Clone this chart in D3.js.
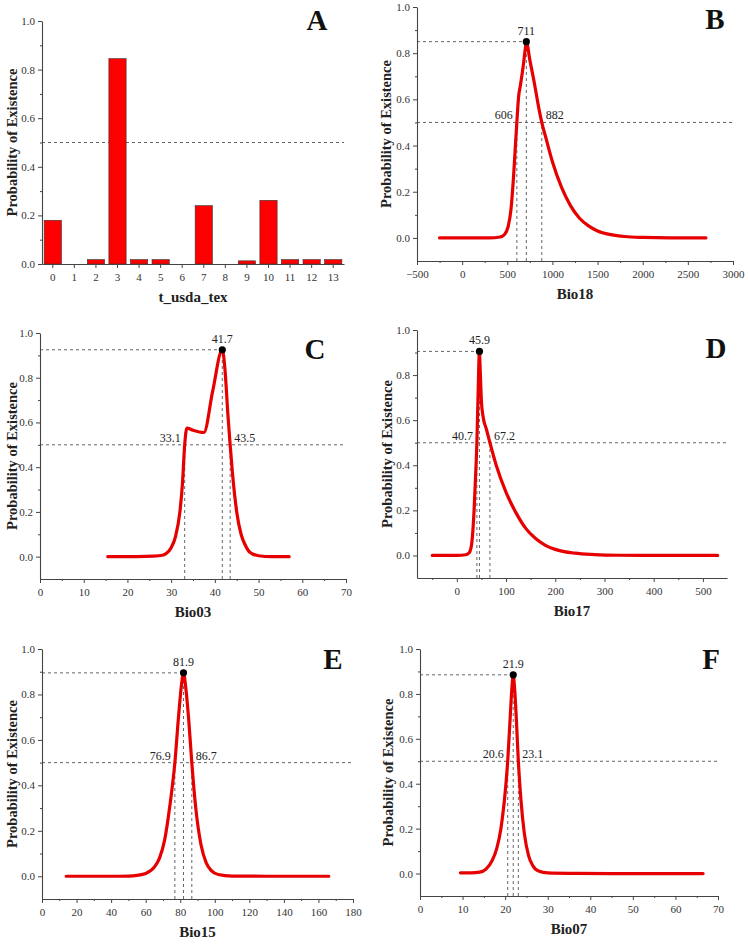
<!DOCTYPE html>
<html>
<head>
<meta charset="utf-8">
<script src="https://cdn.jsdelivr.net/npm/d3@7"></script>
<style>
  body { margin: 0; background: #fff; }
  svg { display: block; }
  text { font-family: "Liberation Serif", "Times New Roman", serif; }
</style>
</head>
<body>
<div id="chart"></div>
<script>
// ---- data ----

const soilClasses = ["0", "1", "2", "3", "4", "5", "6", "7", "8", "9", "10", "11", "12", "13"];
const soilProb = [0.18, 0, 0.018, 0.845, 0.018, 0.018, 0, 0.24, 0, 0.013, 0.262, 0.018, 0.018, 0.018];

const bio18X = [-250, 0, 300, 420, 470, 510, 540, 570, 590, 606, 625, 645, 675, 700, 711, 750, 800, 850, 882, 930, 1000, 1100, 1200, 1300, 1400, 1500, 1650, 1800, 2000, 2300, 2700];
const bio18Y = [0, 0, 0, 0.004, 0.015, 0.05, 0.12, 0.27, 0.4, 0.5, 0.61, 0.66, 0.74, 0.82, 0.85, 0.77, 0.67, 0.56, 0.5, 0.43, 0.33, 0.22, 0.14, 0.085, 0.052, 0.03, 0.014, 0.006, 0.002, 0, 0];

const bio03X = [15.5, 22, 26, 28, 29, 30, 31, 32, 32.6, 33.1, 33.6, 35, 37.5, 39.5, 41.7, 42.3, 43, 43.5, 44, 45, 46, 47, 48, 50, 53, 57];
const bio03Y = [0, 0, 0.002, 0.006, 0.016, 0.04, 0.09, 0.2, 0.33, 0.5, 0.575, 0.565, 0.555, 0.74, 0.925, 0.84, 0.63, 0.5, 0.38, 0.2, 0.1, 0.05, 0.02, 0.004, 0, 0];

const bio17X = [-50, 0, 18, 25, 30, 35, 38, 40.7, 43, 45.9, 47, 50, 53, 60, 67.2, 80, 100, 120, 140, 160, 180, 200, 240, 280, 330, 400, 530];
const bio17Y = [0, 0, 0.003, 0.012, 0.05, 0.2, 0.35, 0.5, 0.7, 0.905, 0.85, 0.68, 0.62, 0.56, 0.5, 0.4, 0.28, 0.19, 0.12, 0.075, 0.045, 0.027, 0.01, 0.004, 0.001, 0, 0];

const bio15X = [14, 40, 50, 55, 60, 65, 68, 71, 74, 76.9, 79, 80.7, 81.9, 83.2, 85, 86.7, 89, 92, 95, 98, 102, 110, 130, 166];
const bio15Y = [0, 0, 0.001, 0.004, 0.012, 0.04, 0.08, 0.16, 0.31, 0.5, 0.7, 0.84, 0.895, 0.83, 0.68, 0.5, 0.3, 0.14, 0.06, 0.025, 0.008, 0.001, 0, 0];

const bio07X = [9.5, 12, 14, 15.5, 17, 18, 19, 20, 20.6, 21.2, 21.6, 21.9, 22.2, 22.6, 23.1, 23.7, 24.5, 25.5, 26.5, 28, 30, 35, 45, 66.5];
const bio07Y = [0.003, 0.003, 0.006, 0.02, 0.06, 0.11, 0.2, 0.36, 0.5, 0.7, 0.83, 0.885, 0.83, 0.7, 0.5, 0.33, 0.18, 0.08, 0.035, 0.01, 0.003, 0.001, 0, 0];

// peak [x, y] and the two 0.5 crossings
const bio18Peak = [711, 0.85], bio18Cuts = [606, 882];
const bio03Peak = [41.7, 0.925], bio03Cuts = [33.1, 43.5];
const bio17Peak = [45.9, 0.905], bio17Cuts = [40.7, 67.2];
const bio15Peak = [81.9, 0.895], bio15Cuts = [76.9, 86.7];
const bio07Peak = [21.9, 0.885], bio07Cuts = [20.6, 23.1];

const bio18Ticks = [-500, 0, 500, 1000, 1500, 2000, 2500, 3000];
const bio03Ticks = [0, 10, 20, 30, 40, 50, 60, 70];
const bio17Ticks = [0, 100, 200, 300, 400, 500];
const bio15Ticks = [0, 20, 40, 60, 80, 100, 120, 140, 160, 180];
const bio07Ticks = [0, 10, 20, 30, 40, 50, 60, 70];
const probTicks = [0, 0.2, 0.4, 0.6, 0.8, 1.0];
const probMinor = [0.1, 0.3, 0.5, 0.7, 0.9];

// ---- layout ----

const width = 748;
const height = 944;
const axisColor = "#444";
const dashColor = "#555";

const svg = d3
  .select("#chart")
  .append("svg")
  .attr("width", width)
  .attr("height", height);

function styleAxis(a) {
  a.select(".domain").attr("stroke", axisColor).attr("stroke-width", 1.1);
  a.selectAll(".tick line").attr("stroke", axisColor).attr("stroke-width", 1);
  a.selectAll(".tick text")
    .style("font-size", "11px")
    .style("font-family", '"Liberation Serif", "Times New Roman", serif')
    .style("fill", "#333");
}

function drawYAxis(g, p, yScale) {
  g.append("g")
    .attr("transform", `translate(${p.x0}, 0)`)
    .call(d3.axisLeft(yScale).tickValues(probTicks).tickFormat(d3.format(".1f")).tickSize(4).tickSizeOuter(0).tickPadding(3))
    .call(styleAxis);
  g.append("g")
    .attr("transform", `translate(${p.x0}, 0)`)
    .call(d3.axisLeft(yScale).tickValues(probMinor).tickFormat("").tickSize(2).tickSizeOuter(0))
    .call((a) => a.select(".domain").remove())
    .call(styleAxis);

  g.append("text")
    .attr("transform", `translate(${p.labelX}, ${(p.yTop + p.yBot) / 2}) rotate(-90)`)
    .attr("text-anchor", "middle")
    .attr("dy", "0.35em")
    .style("font-size", "14.5px")
    .style("font-weight", "bold")
    .style("fill", "#222")
    .text("Probability of Existence");
}

function drawTitles(g, p, title) {
  g.append("text")
    .attr("x", (p.x0 + p.x1) / 2)
    .attr("y", p.yBot + 38)
    .attr("text-anchor", "middle")
    .style("font-size", "15px")
    .style("font-weight", "bold")
    .style("fill", "#222")
    .text(title);

  g.append("text")
    .attr("x", p.letterX)
    .attr("y", p.letterY)
    .attr("text-anchor", "middle")
    .style("font-size", "29px")
    .style("font-weight", "bold")
    .style("fill", "#111")
    .text(p.letter);
}

// Panel A: bar chart of soil texture classes

function drawBars(p) {
  const g = svg.append("g");

  const xScale = d3.scaleBand().domain(soilClasses).range([p.x0, p.x1]).paddingInner(0.2).paddingOuter(0.1);
  const yScale = d3.scaleLinear().domain([0, 1]).range([p.yBot, p.yTop]);

  g.append("line")
    .attr("x1", p.x0)
    .attr("x2", p.x1)
    .attr("y1", yScale(0.5))
    .attr("y2", yScale(0.5))
    .attr("stroke", dashColor)
    .attr("stroke-width", 0.9)
    .attr("stroke-dasharray", "3,3");

  g.selectAll("rect")
    .data(soilProb)
    .enter()
    .append("rect")
    .attr("x", (d, i) => xScale(soilClasses[i]))
    .attr("y", (d) => yScale(d))
    .attr("width", xScale.bandwidth())
    .attr("height", (d) => yScale(0) - yScale(d))
    .style("fill", "#ff0000")
    .style("stroke", "#333")
    .style("stroke-width", 0.6);

  g.append("g")
    .attr("transform", `translate(0, ${p.yBot})`)
    .call(d3.axisBottom(xScale).tickSize(4).tickSizeOuter(0).tickPadding(5))
    .call(styleAxis);

  drawYAxis(g, p, yScale);
  drawTitles(g, p, "t_usda_tex");
}

// Panels B-F: response curves

function drawCurve(p, xs, ys, peak, cuts, ticks, minorStep, title) {
  const g = svg.append("g");

  const xScale = d3.scaleLinear().domain(p.xDomain).range([p.x0, p.x1]);
  const yScale = d3.scaleLinear().domain([-0.1, 1]).range([p.yBot, p.yTop]);

  const dash = (x1, y1, x2, y2) =>
    g.append("line")
      .attr("x1", x1).attr("y1", y1).attr("x2", x2).attr("y2", y2)
      .attr("stroke", dashColor)
      .attr("stroke-width", 0.9)
      .attr("stroke-dasharray", "3,3");

  // reference lines
  dash(p.x0, yScale(0.5), p.x1, yScale(0.5));
  dash(p.x0, yScale(peak[1]), xScale(peak[0]), yScale(peak[1]));
  dash(xScale(peak[0]), p.yBot, xScale(peak[0]), yScale(peak[1]));
  cuts.forEach((c) => dash(xScale(c), p.yBot, xScale(c), yScale(0.5)));

  const line = d3
    .line()
    .x((d, i) => xScale(xs[i]))
    .y((d) => yScale(d))
    .curve(d3.curveMonotoneX);

  g.append("path")
    .datum(ys)
    .attr("d", line)
    .attr("fill", "none")
    .attr("stroke", "#e60000")
    .attr("stroke-width", 3.2)
    .attr("stroke-linejoin", "round")
    .attr("stroke-linecap", "round");

  g.append("circle")
    .attr("cx", xScale(peak[0]))
    .attr("cy", yScale(peak[1]))
    .attr("r", 3.6)
    .style("fill", "#000");

  const lab = (x, y, anchor, txt) =>
    g.append("text")
      .attr("x", x)
      .attr("y", y)
      .attr("text-anchor", anchor)
      .style("font-size", "12px")
      .style("fill", "#222")
      .text(txt);

  lab(xScale(peak[0]), yScale(peak[1]) - 7, "middle", peak[0]);
  lab(xScale(cuts[0]) - 4, yScale(0.5) - 3, "end", cuts[0]);
  lab(xScale(cuts[1]) + 4, yScale(0.5) - 3, "start", cuts[1]);

  // axes
  const minor = d3.range(Math.ceil(p.xDomain[0] / minorStep) * minorStep, p.xDomain[1], minorStep)
    .filter((v) => !ticks.includes(v));

  g.append("g")
    .attr("transform", `translate(0, ${p.yBot})`)
    .call(d3.axisBottom(xScale).tickValues(ticks).tickFormat(d3.format("d")).tickSize(4).tickSizeOuter(0).tickPadding(5))
    .call(styleAxis);
  g.append("g")
    .attr("transform", `translate(0, ${p.yBot})`)
    .call(d3.axisBottom(xScale).tickValues(minor).tickFormat("").tickSize(2).tickSizeOuter(0))
    .call((a) => a.select(".domain").remove())
    .call(styleAxis);

  drawYAxis(g, p, yScale);
  drawTitles(g, p, title);
}

drawBars({ x0: 42, x1: 344, yTop: 21, yBot: 264, labelX: 12, letter: "A", letterX: 317, letterY: 30 });

drawCurve({ x0: 417, x1: 733, yTop: 7, yBot: 261, xDomain: [-500, 3000], labelX: 386, letter: "B", letterX: 715, letterY: 29 },
  bio18X, bio18Y, bio18Peak, bio18Cuts, bio18Ticks, 250, "Bio18");

drawCurve({ x0: 40, x1: 346, yTop: 333, yBot: 579, xDomain: [0, 70], labelX: 12, letter: "C", letterX: 315, letterY: 359 },
  bio03X, bio03Y, bio03Peak, bio03Cuts, bio03Ticks, 5, "Bio03");

drawCurve({ x0: 417, x1: 727, yTop: 330, yBot: 578, xDomain: [-81, 549], labelX: 387, letter: "D", letterX: 716, letterY: 358 },
  bio17X, bio17Y, bio17Peak, bio17Cuts, bio17Ticks, 50, "Bio17");

drawCurve({ x0: 42, x1: 353, yTop: 649, yBot: 899, xDomain: [0, 180], labelX: 12, letter: "E", letterX: 333, letterY: 669 },
  bio15X, bio15Y, bio15Peak, bio15Cuts, bio15Ticks, 10, "Bio15");

drawCurve({ x0: 420, x1: 718, yTop: 649, yBot: 896, xDomain: [0, 70], labelX: 388, letter: "F", letterX: 711, letterY: 669 },
  bio07X, bio07Y, bio07Peak, bio07Cuts, bio07Ticks, 5, "Bio07");
</script>
</body>
</html>
